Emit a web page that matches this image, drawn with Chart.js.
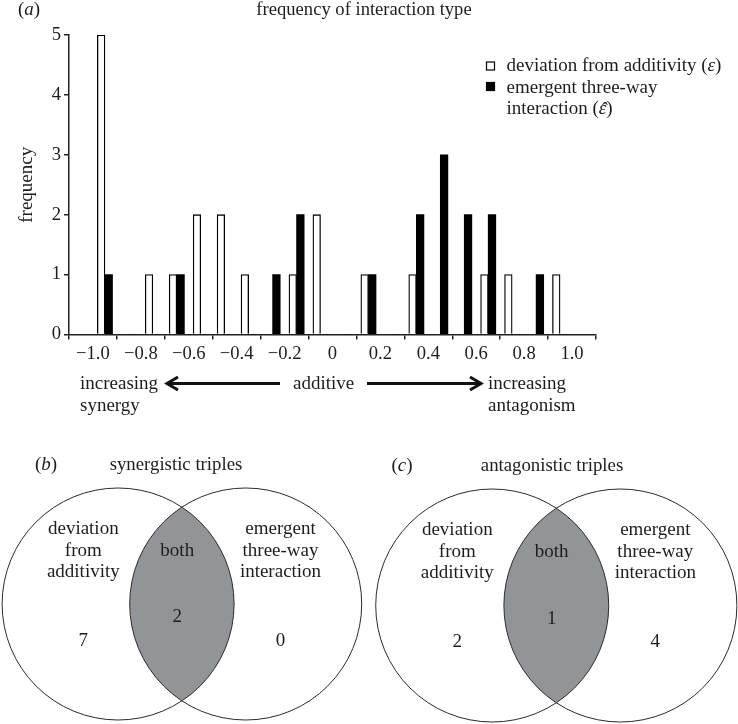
<!DOCTYPE html>
<html>
<head>
<meta charset="utf-8">
<script src="https://cdn.jsdelivr.net/npm/chart.js@4.4.1/dist/chart.umd.min.js"></script>
<style>
  html, body { margin: 0; padding: 0; background: #fff; }
  #wrap { position: relative; width: 738px; height: 724px; }
  canvas { position: absolute; }
</style>
</head>
<body>
<div id="wrap">
  <canvas id="histChart" width="738" height="440" style="left:0;top:0"></canvas>
  <canvas id="vennB" width="369" height="284" style="left:0;top:440px"></canvas>
  <canvas id="vennC" width="369" height="284" style="left:369px;top:440px"></canvas>
</div>
<script>
// histogram: centre of each 0.1 wide bin
const binCenters = [-0.95, -0.85, -0.75, -0.65, -0.55, -0.45, -0.35, -0.25, -0.15, -0.05,
                    0.05, 0.15, 0.25, 0.35, 0.45, 0.55, 0.65, 0.75, 0.85, 0.95];
const deviationCounts = [5, 0, 1, 1, 2, 2, 1, 0, 1, 2, 0, 1, 0, 1, 0, 0, 1, 1, 0, 1];
const emergentCounts  = [1, 0, 0, 1, 0, 0, 0, 1, 2, 0, 0, 1, 0, 2, 3, 2, 2, 0, 1, 0];
const xRange = [-1.1, 1.1];
const yRange = [0, 5];

// venn regions: [deviation only, both, emergent only]
const vennRegionLines = [['deviation', 'from', 'additivity'], ['both'], ['emergent', 'three-way', 'interaction']];
const synergisticCounts = [7, 2, 0];
const antagonisticCounts = [2, 1, 4];
const vennCenters = [-0.55, 0.55];

const SERIF = '"Liberation Serif", "Times New Roman", serif';
const INK = '#1d1d1b';

// draws a run of [text, italic, hat] pieces starting at x
function drawRich(ctx, parts, x, y, size) {
    let cx = x;
    parts.forEach(([txt, italic, hat]) => {
        ctx.font = (italic ? 'italic ' : '') + size + 'px ' + SERIF;
        ctx.fillText(txt, cx, y);
        const w = ctx.measureText(txt).width;
        if (hat) {
            // circumflex over the glyph (combining mark renders badly)
            const hw = ctx.measureText('\u02c6').width;
            ctx.fillText('\u02c6', cx + (w - hw) / 2 + 1, y + 1);
        }
        cx += w;
    });
}

function arrow(ctx, x1, x2, y) {
    const dir = Math.sign(x2 - x1);
    ctx.beginPath();
    ctx.moveTo(x1, y);
    ctx.lineTo(x2 - dir * 2, y);
    ctx.stroke();
    ctx.beginPath();
    ctx.moveTo(x2 - dir * 11, y - 6.5);
    ctx.lineTo(x2, y);
    ctx.lineTo(x2 - dir * 11, y + 6.5);
    ctx.stroke();
}

const histDecor = {
    id: 'histDecor',
    afterDraw(chart) {
        const ctx = chart.ctx;
        ctx.save();
        ctx.fillStyle = INK;
        ctx.textAlign = 'left';
        ctx.textBaseline = 'alphabetic';

        drawRich(ctx, [['(', false], ['a', true], [')', false]], 18, 15, 19);
        ctx.font = '18.6px ' + SERIF;
        const title = 'frequency of interaction type';
        ctx.fillText(title, 364 - ctx.measureText(title).width / 2, 15);

        // legend
        const ds = chart.data.datasets;
        const legendRows = [
            { d: 0, box: 61.5, lines: [[['deviation from additivity (', false], ['\u03b5', true], [')', false]]] },
            { d: 1, box: 82, lines: [[['emergent three-way', false]],
                                    [['interaction (', false], ['\u03b5', true, true], [')', false]]] }
        ];
        let base = 71;
        legendRows.forEach(row => {
            ctx.fillStyle = ds[row.d].backgroundColor;
            ctx.fillRect(486, row.box, 9, 9);
            ctx.strokeStyle = '#000';
            ctx.lineWidth = 1.2;
            ctx.strokeRect(486.5, row.box + 0.5, 8, 8);
            ctx.fillStyle = INK;
            row.lines.forEach(parts => {
                drawRich(ctx, parts, 506.5, base, 19);
                base += 21.5;
            });
        });

        // direction annotation under the axis
        ctx.font = '19px ' + SERIF;
        ctx.fillText('increasing', 80, 389);
        ctx.fillText('synergy', 80, 411);
        ctx.fillText('additive', 293, 389);
        ctx.fillText('increasing', 488, 389);
        ctx.fillText('antagonism', 488, 411);
        ctx.strokeStyle = '#111';
        ctx.lineWidth = 3;
        arrow(ctx, 280, 167, 383.5);
        arrow(ctx, 367, 481, 383.5);
        ctx.restore();
    }
};

const xLabel = v => {
    const k = Math.round(v * 10);
    if (k % 2 !== 0) return '';
    if (k === 0) return '0';
    return (k < 0 ? '\u2212' : '') + (Math.abs(k) / 10).toFixed(1);
};

new Chart(document.getElementById('histChart'), {
    type: 'bar',
    data: {
        datasets: [{
            label: 'deviation from additivity',
            data: binCenters.map((x, i) => ({ x: x, y: deviationCounts[i] })),
            backgroundColor: '#ffffff',
            borderColor: '#000000',
            borderWidth: 1.3,
            borderSkipped: 'start',
            barThickness: 7.6
        }, {
            label: 'emergent three-way interaction',
            data: binCenters.map((x, i) => ({ x: x, y: emergentCounts[i] })),
            backgroundColor: '#000000',
            borderColor: '#000000',
            borderWidth: 0,
            barThickness: 7.6
        }]
    },
    options: {
        responsive: false,
        animation: false,
        events: [],
        layout: { padding: { left: 0, top: 35, right: 142, bottom: 0 } },
        plugins: { legend: { display: false }, tooltip: { enabled: false } },
        scales: {
            x: {
                type: 'linear',
                min: xRange[0],
                max: xRange[1],
                offset: false,
                afterFit: s => { s.height = 105.5; },
                grid: {
                    offset: false,
                    drawOnChartArea: false,
                    tickLength: 5,
                    lineWidth: 1.5,
                    color: c => (c.tick && Math.round(c.tick.value * 10) % 2 !== 0) ? '#222' : 'rgba(0,0,0,0)'
                },
                border: { color: '#222', width: 1.5 },
                ticks: {
                    stepSize: 0.1,
                    autoSkip: false,
                    maxRotation: 0,
                    padding: 3,
                    color: INK,
                    font: { family: SERIF, size: 18.6 },
                    callback: xLabel
                }
            },
            y: {
                min: yRange[0],
                max: yRange[1],
                afterFit: s => { s.width = 69; },
                grid: { drawOnChartArea: false, tickLength: 5, lineWidth: 1.5, color: '#222' },
                border: { color: '#222', width: 1.5 },
                ticks: { stepSize: 1, padding: 3, color: INK, font: { family: SERIF, size: 18.6 } },
                title: {
                    display: true,
                    text: 'frequency',
                    color: INK,
                    font: { family: SERIF, size: 19 },
                    padding: { top: 16, bottom: 0 }
                }
            }
        }
    },
    plugins: [histDecor]
});

// venn panels
const vennDecor = {
    id: 'vennDecor',
    beforeDatasetsDraw(chart, args, opts) {
        const { ctx, scales: { x, y } } = chart;
        const r = x.getPixelForValue(1) - x.getPixelForValue(0);
        const cy = y.getPixelForValue(0);
        const ax = x.getPixelForValue(vennCenters[0]);
        const bx = x.getPixelForValue(vennCenters[1]);
        ctx.save();
        ctx.beginPath();
        ctx.arc(ax, cy, r, 0, Math.PI * 2);
        ctx.clip();
        ctx.beginPath();
        ctx.arc(bx, cy, r, 0, Math.PI * 2);
        ctx.fillStyle = '#939498';
        ctx.fill();
        ctx.restore();
    },
    afterDraw(chart, args, opts) {
        const { ctx, scales: { x, y } } = chart;
        ctx.save();
        ctx.fillStyle = INK;
        ctx.textBaseline = 'alphabetic';
        ctx.textAlign = 'left';
        drawRich(ctx, [['(', false], [opts.tag, true], [')', false]], opts.tagX, opts.titleY, 19);
        ctx.font = '18.8px ' + SERIF;
        ctx.textAlign = 'center';
        ctx.fillText(opts.title, opts.titleX, opts.titleY);

        const labelX = [-0.85, -0.04, 0.85];
        const lineY = [0.603, 0.418, 0.233];
        ctx.font = '19px ' + SERIF;
        vennRegionLines.forEach((lines, i) => {
            const start = lines.length === 1 ? 1 : 0;
            lines.forEach((t, j) => {
                ctx.fillText(t, x.getPixelForValue(labelX[i]), y.getPixelForValue(lineY[start + j]));
            });
        });
        const countY = [-0.36, -0.155, -0.36];
        opts.counts.forEach((n, i) => {
            ctx.fillText(String(n), x.getPixelForValue(labelX[i]), y.getPixelForValue(countY[i]));
        });
        ctx.restore();
    }
};

function vennChart(id, counts, pxPerUnit, midX, midY, deco) {
    const w = 369, h = 284;
    new Chart(document.getElementById(id), {
        type: 'scatter',
        data: {
            datasets: [{
                data: vennCenters.map(cx => ({ x: cx, y: 0 })),
                pointRadius: c => c.chart.scales.x.getPixelForValue(1) - c.chart.scales.x.getPixelForValue(0),
                pointBackgroundColor: 'rgba(0,0,0,0)',
                pointBorderColor: '#2b2b2b',
                pointBorderWidth: 1,
                clip: false
            }]
        },
        options: {
            responsive: false,
            animation: false,
            events: [],
            layout: { padding: 0 },
            plugins: {
                legend: { display: false },
                tooltip: { enabled: false },
                vennDecor: Object.assign({ counts: counts }, deco)
            },
            scales: {
                x: { display: false, min: -midX / pxPerUnit, max: (w - midX) / pxPerUnit },
                y: { display: false, min: -(h - midY) / pxPerUnit, max: midY / pxPerUnit }
            }
        },
        plugins: [vennDecor]
    });
}

vennChart('vennB', synergisticCounts, 116, 181.9, 164,
    { tag: 'b', tagX: 35, title: 'synergistic triples', titleX: 176, titleY: 29.5 });
vennChart('vennC', antagonisticCounts, 116.5, 187.3, 165.5,
    { tag: 'c', tagX: 22.5, title: 'antagonistic triples', titleX: 183, titleY: 30.5 });
</script>
</body>
</html>
